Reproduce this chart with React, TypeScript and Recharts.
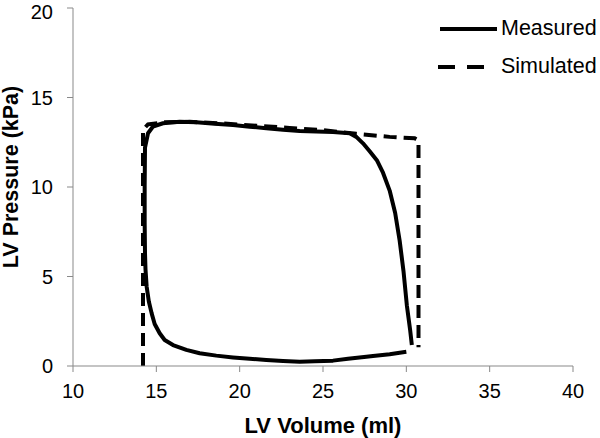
import { LineChart, Line, XAxis, YAxis } from "recharts";

const FONT = '"Liberation Sans", Arial, sans-serif';
const AXIS_GREY = "#898989";

// Measured PV loop (solid), traced bottom-right -> left -> top -> right side down
const measuredVolume = [
  30.0, 29.0, 28.0, 27.6, 26.5, 25.6, 24.5, 23.6, 22.6, 21.6, 20.6, 19.6, 18.6, 17.6, 16.8, 16.0,
  15.5, 15.2, 14.9, 14.72, 14.55, 14.42, 14.35, 14.32, 14.3, 14.3, 14.32, 14.5, 14.8, 15.4, 16.4,
  17.4, 18.5, 19.6, 20.6, 21.6, 22.6, 23.6, 24.6, 25.6, 26.6, 27.0, 27.4, 27.8, 28.23, 28.6, 29.0,
  29.33, 29.6, 29.83, 30.03, 30.23, 30.33,
];
const measuredPressure = [
  0.8, 0.66, 0.56, 0.52, 0.4, 0.3, 0.26, 0.24, 0.28, 0.34, 0.4, 0.48, 0.58, 0.71, 0.9, 1.17,
  1.45, 1.83, 2.35, 2.94, 3.6, 4.43, 5.4, 6.3, 8.0, 10.0, 12.2, 13.0, 13.38, 13.56, 13.65,
  13.62, 13.54, 13.46, 13.37, 13.28, 13.2, 13.13, 13.1, 13.07, 13.0, 12.8, 12.44, 12.0, 11.5, 10.8, 9.8,
  8.55, 7.0, 5.3, 3.4, 2.0, 1.17,
];

// Simulated PV loop (dashed)
const simulatedVolume = [14.2, 14.2, 14.5, 15.5, 17.0, 19.0, 21.0, 23.0, 25.0, 27.0, 29.0, 30.5, 30.73, 30.73];
const simulatedPressure = [0.0, 13.2, 13.5, 13.62, 13.64, 13.55, 13.42, 13.3, 13.17, 12.97, 12.8, 12.72, 12.6, 1.05];

const xTicks = [10, 15, 20, 25, 30, 35, 40];
const yTicks = [0, 5, 10, 15, 20];
const seriesNames = ["Measured", "Simulated"];

const measured = measuredVolume.map((x, i) => ({ x, y: measuredPressure[i] }));
const simulated = simulatedVolume.map((x, i) => ({ x, y: simulatedPressure[i] }));

const yTitle = (props: any) => {
  const vb = props.viewBox;
  const cx = vb.x + 11;
  const cy = vb.y + vb.height / 2 - 10;
  return (
    <text
      x={cx}
      y={cy}
      transform={`rotate(-90, ${cx}, ${cy})`}
      textAnchor="middle"
      dominantBaseline="central"
      fontFamily={FONT}
      fontSize={21.5}
      fontWeight="bold"
      fill="#000"
    >
      LV Pressure (kPa)
    </text>
  );
};

const xTitle = (props: any) => {
  const vb = props.viewBox;
  return (
    <text
      x={vb.x + vb.width / 2}
      y={vb.y + 67}
      textAnchor="middle"
      fontFamily={FONT}
      fontSize={22}
      fontWeight="bold"
      fill="#000"
    >
      LV Volume (ml)
    </text>
  );
};

function ChartLegend() {
  return (
    <div
      style={{
        position: "absolute",
        top: 10,
        left: 438,
        fontFamily: FONT,
        fontSize: 21.5,
        color: "#000",
        lineHeight: 1,
        whiteSpace: "nowrap",
      }}
    >
      <div style={{ display: "flex", alignItems: "center", height: 38 }}>
        <svg width={63} height={10}>
          <line x1={2} x2={59} y1={5} y2={5} stroke="#000" strokeWidth={4} />
        </svg>
        <span>{seriesNames[0]}</span>
      </div>
      <div style={{ display: "flex", alignItems: "center", height: 38 }}>
        <svg width={63} height={10}>
          <line x1={0} x2={46} y1={5} y2={5} stroke="#000" strokeWidth={4} strokeDasharray="17 12" />
        </svg>
        <span>{seriesNames[1]}</span>
      </div>
    </div>
  );
}

export default function App() {
  return (
    <div style={{ position: "absolute", left: 0, top: 0, width: 600, height: 438, background: "#fff" }}>
      <LineChart width={600} height={438} margin={{ top: 8, right: 27, left: 0, bottom: 0 }}>
        <XAxis
          type="number"
          dataKey="x"
          domain={[10, 40]}
          ticks={xTicks}
          height={72}
          stroke={AXIS_GREY}
          tickSize={6}
          tickMargin={12}
          tick={{ fill: "#000", fontSize: 20, fontFamily: FONT }}
          label={xTitle}
        />
        <YAxis
          type="number"
          dataKey="y"
          domain={[0, 20]}
          ticks={yTicks}
          width={73}
          stroke={AXIS_GREY}
          tickSize={6}
          tickMargin={14}
          tick={{ fill: "#000", fontSize: 20, fontFamily: FONT }}
          label={yTitle}
        />
        <Line
          data={simulated}
          dataKey="y"
          name={seriesNames[1]}
          type="linear"
          stroke="#000"
          strokeWidth={4}
          strokeDasharray="13 7"
          dot={false}
          isAnimationActive={false}
        />
        <Line
          data={measured}
          dataKey="y"
          name={seriesNames[0]}
          type="linear"
          stroke="#000"
          strokeWidth={4}
          strokeLinejoin="round"
          dot={false}
          isAnimationActive={false}
        />
      </LineChart>
      <ChartLegend />
    </div>
  );
}
